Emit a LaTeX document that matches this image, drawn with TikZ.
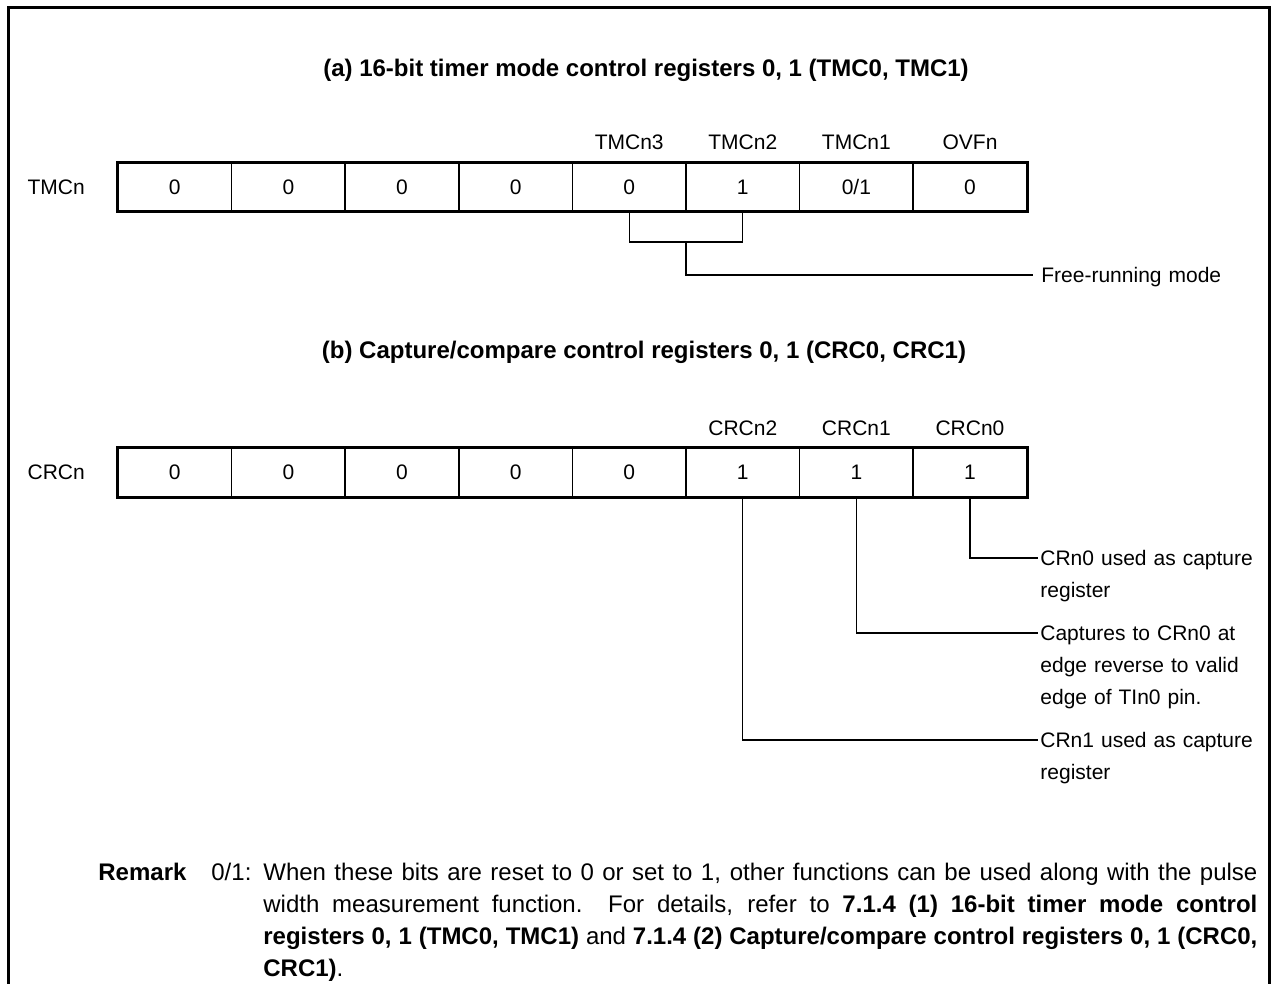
\documentclass[tikz,border=0pt]{standalone}
\usepackage{fontspec}
\setmainfont{Liberation Sans}
\usetikzlibrary{positioning}
\newcommand{\lblfont}{\fontsize{10.5}{16}\selectfont}
\newcommand{\ttlfont}{\fontsize{12}{16}\selectfont\bfseries}
\newcommand{\rmkfont}{\fontsize{12}{16}\selectfont}
\tikzset{
	bitcell/.style={draw,line width=0.8pt,minimum width=56.8pt,minimum height=24pt,inner sep=0pt,font=\lblfont},
	regframe/.style={draw,line width=1.5pt},
	bitname/.style={inner sep=0pt,font=\lblfont},
	leader/.style={line width=0.55pt},
	desc/.style={inner sep=0pt,text width=110pt,align=left,font=\lblfont,anchor=base west},
	ttl/.style={font=\ttlfont}
}
\newcommand{\regrow}[3]{\foreach \val [count=\i] in {#3} {\node[bitcell] (#1\i) at ({118+113.6*(\i-0.5)},#2) {\val};}
	\draw[regframe] (#11.north west) rectangle (#18.south east);}

\begin{document}
\begin{tikzpicture}[x=0.5pt,y=-0.5pt]
		\useasboundingbox (0,0) rectangle (1280,984);
		\draw[line width=1.5pt] (8,984) -- (8,8) -- (1269,8) -- (1269,984);
		\node[ttl] (ttla) at (646,70) {(a) 16-bit timer mode control registers 0, 1 (TMC0, TMC1)};
		\regrow{tmc}{187}{0,0,0,0,0,1,{0/1},0}
		\node[bitname,left=16pt of tmc1] (tmcn) {TMCn};
		\node[bitname,above=6pt of tmc5] (tmcn3) {TMCn3};
		\node[bitname,above=6pt of tmc6] (tmcn2) {TMCn2};
		\node[bitname,above=6pt of tmc7] (tmcn1) {TMCn1};
		\node[bitname,above=6pt of tmc8] (ovfn) {OVFn};
		\coordinate (frm) at (686,242);
		\node[desc] (free) at (1041,282.5) {Free-running mode};
		\draw[leader] (tmc5.south) |- (frm) -| (tmc6.south);
		\draw[leader] (frm) |- ([xshift=-4pt,yshift=3.75pt]free.base west);
		\node[ttl] (ttlb) at (644,352) {(b) Capture/compare control registers 0, 1 (CRC0, CRC1)};
		\regrow{crc}{472.5}{0,0,0,0,0,1,1,1}
		\node[bitname,left=16pt of crc1] (crcn) {CRCn};
		\node[bitname,above=6pt of crc6] (crcn2) {CRCn2};
		\node[bitname,above=6pt of crc7] (crcn1) {CRCn1};
		\node[bitname,above=6pt of crc8] (crcn0) {CRCn0};
		\node[desc] (cap0) at (1040,565.5) {CRn0 used as capture\\register};
		\node[desc] (rev) at (1040,640.5) {Captures to CRn0 at\\edge reverse to valid\\edge of TIn0 pin.};
		\node[desc] (cap1) at (1040,747.5) {CRn1 used as capture\\register};
		\draw[leader] (crc8.south) |- ([xshift=-1pt,yshift=3.75pt]cap0.base west);
		\draw[leader] (crc7.south) |- ([xshift=-1pt,yshift=3.75pt]rev.base west);
		\draw[leader] (crc6.south) |- ([xshift=-1pt,yshift=3.75pt]cap1.base west);
		\node[inner sep=0pt,anchor=base west,font=\ttlfont] (rmk) at (98,880.6) {Remark};
		\node[inner sep=0pt,anchor=base west,font=\rmkfont] (rmkkey) at (211,880.6) {0/1:};
		\node[inner sep=0pt,anchor=base west,text width=497pt,align=justify,font=\rmkfont] (rmktxt) at (263,880.6) {\hyphenpenalty=10000\exhyphenpenalty=10000 When these bits are reset to 0 or set to 1, other functions can be used along with the pulse\linebreak width measurement function.\ \ For details, refer to \textbf{7.1.4 (1) 16-bit timer mode control}\linebreak \textbf{registers 0, 1 (TMC0, TMC1)} and \textbf{7.1.4 (2) Capture/compare control registers 0, 1 (CRC0,}\linebreak \textbf{CRC1)}.};
\end{tikzpicture}
\end{document}
